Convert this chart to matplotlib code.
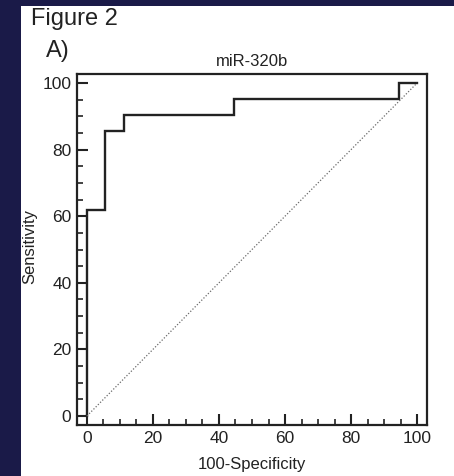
import matplotlib
matplotlib.use("Agg")
import matplotlib.pyplot as plt
import matplotlib.patches as patches
from matplotlib.ticker import MultipleLocator

plt.rcParams['font.family'] = ['Liberation Sans', 'DejaVu Sans']

# ROC curve of miR-320b (100-specificity, sensitivity)
fpr = [0, 0, 5.56, 5.56, 11.1, 11.1, 44.4, 44.4, 94.4, 94.4, 100]
tpr = [0, 61.9, 61.9, 85.7, 85.7, 90.5, 90.5, 95.2, 95.2, 100, 100]
diag = [0, 100]

navy = '#1a1a48'
ink = '#222222'

fig = plt.figure(figsize=(4.54, 4.76), dpi=100, facecolor=navy)

# white slide panel behind everything
fig.patches.append(patches.Rectangle((21 / 454, 0), 1, 1 - 6 / 476,
                                     transform=fig.transFigure,
                                     facecolor='white', edgecolor='none', zorder=-10))

ax = fig.add_axes([77 / 454, 1 - 425 / 476, 350 / 454, 351 / 476])
ax.set_zorder(5)
ax.set_facecolor('white')
ax.plot(fpr, tpr, color=ink, lw=1.7, solid_joinstyle='miter')
ax.plot(diag, diag, color='#6a6a6a', lw=0.9, ls=(0, (1, 1.5)))

ax.set_xlim(-3, 103)
ax.set_ylim(-2.7, 102.7)
ax.xaxis.set_major_locator(MultipleLocator(20))
ax.xaxis.set_minor_locator(MultipleLocator(5))
ax.yaxis.set_major_locator(MultipleLocator(20))
ax.yaxis.set_minor_locator(MultipleLocator(5))
ax.tick_params(which='major', direction='in', length=8, width=1.5, color=ink,
               labelsize=12.5, labelcolor=ink, pad=4)
ax.tick_params(which='minor', direction='in', length=4, width=1.2, color=ink)
for s in ax.spines.values():
    s.set_linewidth(1.6)
    s.set_color(ink)

ax.set_title('miR-320b', fontsize=12, color=ink, pad=6)
fig.text(252 / 454, 1 - 469 / 476, '100-Specificity', ha='center', va='baseline',
         fontsize=12, color=ink)
fig.text(30 / 454, 1 - 246 / 476, 'Sensitivity', ha='center', va='center',
         rotation=90, fontsize=12, color=ink)
fig.text(31 / 454, 1 - 25 / 476, 'Figure 2', ha='left', va='baseline',
         fontsize=17, color=ink)
fig.text(46 / 454, 1 - 57 / 476, 'A)', ha='left', va='baseline',
         fontsize=17, color=ink)

fig.savefig('out.png', dpi=100, facecolor=navy)
